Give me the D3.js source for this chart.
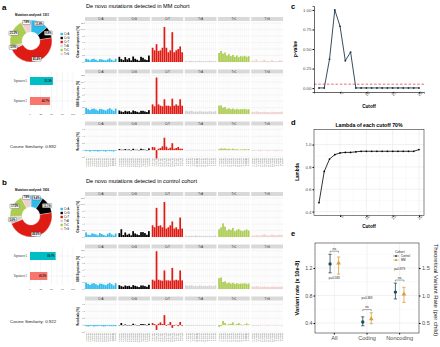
<!DOCTYPE html>
<html><head><meta charset="utf-8">
<script src="https://cdn.jsdelivr.net/npm/d3@7"></script>
<style>
body{margin:0;background:#fff;}
svg{font-family:"Liberation Sans",Arial,sans-serif;display:block}
</style></head><body>
<svg id="fig" width="440" height="347"></svg>
<script>
// substitution types + colours (MutationalPatterns palette)
const subs = ["C>A","C>G","C>T","T>A","T>C","T>G"];
const subColors = ["#2EBAED","#000000","#DE1C14","#D4D2D2","#ADCC54","#F0D0CE"];
const contexts = ["A.A","A.C","A.G","A.T","C.A","C.C","C.G","C.T","G.A","G.C","G.G","G.T","T.A","T.C","T.G","T.T"];

// donut shares (%)
const mmShares = [13.8,8.8,45.4,3.0,21.2,7.8];
const ctrlShares = [9.4,13.1,46.6,5.6,17.5,7.8];
const mmCount = 1301, ctrlCount = 1936;

// signature contributions (%)
const sigNames = ["Signature 5","Signature 1"];
const sigColors = ["#00BFC4","#F8766D"];
const mmSig = [53.3,46.7];
const ctrlSig = [59.7,40.3];
const sigTicks = [0,25,50,75,100];
const cosMM = 0.892, cosCtrl = 0.922;

// 96-channel profiles (%), one row of 16 per substitution
const mmObserved = [
  [1.0,0.8,0.5,0.9,1.0,0.7,0.4,0.9,0.8,0.6,0.5,0.8,1.1,0.7,0.4,1.0],
  [1.6,0.9,0.6,1.5,0.8,1.2,0.5,1.7,1.0,0.7,0.4,1.6,1.3,0.8,0.6,2.0],
  [4.4,3.6,5.5,3.4,3.6,4.4,10.8,4.4,3.0,3.6,9.2,3.0,3.6,4.0,4.8,3.0],
  [0.3,0.2,0.4,0.3,0.2,0.3,0.2,0.4,0.3,0.2,0.3,0.2,0.4,0.3,0.2,0.3],
  [2.8,3.4,2.6,2.9,2.0,2.4,1.8,2.2,1.6,2.0,1.5,1.8,1.7,1.9,1.6,1.8],
  [0.4,0.3,0.8,0.3,0.2,0.3,0.7,0.3,0.3,0.2,0.6,0.3,0.2,0.3,0.5,0.4]
];
const mmFitted = [
  [1.9,1.5,1.2,1.6,1.7,1.4,1.1,1.6,1.5,1.3,1.1,1.5,1.8,1.4,1.0,1.7],
  [1.1,0.8,0.6,1.0,0.8,0.9,0.5,1.1,0.9,0.7,0.5,1.0,1.0,0.8,0.6,1.2],
  [3.0,2.4,11.4,3.0,2.6,2.4,4.6,2.6,2.6,2.4,4.8,2.6,3.0,2.6,4.6,2.6],
  [1.0,0.8,0.9,1.0,0.7,0.8,0.7,0.9,0.8,0.7,0.8,0.7,0.9,0.8,0.7,0.9],
  [2.6,2.7,2.0,2.2,1.6,1.8,1.5,1.7,1.4,1.6,1.4,1.5,1.5,1.6,1.4,1.5],
  [0.7,0.6,0.8,0.7,0.6,0.6,0.7,0.6,0.6,0.5,0.7,0.6,0.6,0.6,0.6,0.7]
];
const mmResidual = [
  [-0.3,-0.2,-0.4,-0.2,-0.3,-0.3,-0.4,-0.3,-0.2,-0.3,-0.4,-0.2,-0.3,-0.3,-0.4,-0.2],
  [0.3,0.1,0.1,0.3,0.1,0.2,0.0,0.4,0.1,0.1,-0.1,0.4,0.2,0.1,0.0,0.5],
  [0.9,0.8,-2.4,0.4,0.6,1.1,3.6,1.0,0.4,0.7,2.0,0.4,0.6,0.9,0.4,0.4],
  [-0.1,-0.1,0.1,-0.1,-0.1,0.1,-0.1,0.1,-0.1,-0.1,0.1,-0.1,0.1,-0.1,-0.1,0.1],
  [0.3,0.5,0.4,0.5,0.3,0.4,0.2,0.4,0.2,0.3,0.1,0.2,0.2,0.3,0.2,0.3],
  [-0.2,-0.2,0.1,-0.3,-0.3,-0.2,0.1,-0.2,-0.2,-0.2,0.0,-0.2,-0.3,-0.2,-0.1,-0.2]
];
const ctrlObserved = [
  [1.4,0.7,0.6,1.1,1.0,0.8,0.5,1.2,0.9,0.6,0.4,1.0,1.3,0.8,0.5,1.1],
  [1.2,2.4,0.6,1.4,0.7,1.0,0.5,1.8,1.1,0.8,0.6,1.5,1.5,1.2,0.7,1.8],
  [3.6,3.0,9.0,3.4,3.6,3.0,10.8,2.6,3.0,3.6,4.8,2.6,3.0,2.4,6.0,2.6],
  [0.4,0.3,0.3,0.4,0.3,0.5,0.3,0.4,0.3,0.3,0.4,0.3,0.4,0.3,0.3,0.5],
  [2.4,3.0,4.2,3.2,2.0,2.4,2.2,2.8,1.8,2.2,2.4,2.0,1.8,2.1,2.3,2.0],
  [0.5,0.4,0.6,0.5,0.4,0.6,0.9,0.6,0.5,0.5,0.8,0.6,0.5,0.6,0.7,0.6]
];
const ctrlFitted = [
  [2.0,1.6,1.3,1.7,1.8,1.5,1.2,1.7,1.6,1.4,1.2,1.6,1.9,1.5,1.1,1.8],
  [1.2,0.9,0.7,1.1,0.9,1.0,0.6,1.2,1.0,0.8,0.6,1.1,1.1,0.9,0.7,1.3],
  [2.9,2.6,11.8,2.9,2.7,2.6,5.8,2.7,2.7,2.6,6.6,2.7,2.9,2.7,5.8,2.7],
  [1.2,1.0,1.1,1.2,0.9,1.0,0.9,1.1,1.0,0.9,1.0,0.9,1.1,1.0,0.9,1.1],
  [3.4,3.6,2.2,2.4,1.8,2.0,1.7,1.9,1.6,1.8,1.6,1.7,1.7,1.8,1.6,1.7],
  [0.8,0.7,0.9,0.8,0.7,0.7,0.8,0.7,0.7,0.6,0.8,0.7,0.7,0.7,0.7,0.8]
];
const ctrlResidual = [
  [-0.3,-0.4,-0.3,-0.2,-0.4,-0.3,-0.3,-0.2,-0.3,-0.4,-0.3,-0.2,-0.3,-0.3,-0.3,-0.3],
  [0.0,0.6,-0.1,0.2,-0.1,0.0,-0.1,0.4,0.1,0.0,0.0,0.3,0.3,0.2,0.0,0.4],
  [0.6,0.3,-1.4,0.4,0.8,0.3,2.9,-0.2,0.2,0.9,-0.8,-0.2,0.1,-0.3,0.9,-0.2],
  [-0.2,-0.2,-0.2,-0.2,-0.2,-0.1,-0.2,-0.2,-0.2,-0.2,-0.1,-0.2,-0.2,-0.2,-0.2,-0.1],
  [-0.5,-0.3,1.2,0.6,0.1,0.3,0.4,0.8,0.1,0.3,0.6,0.2,0.0,0.2,0.5,0.2],
  [-0.2,-0.2,-0.2,-0.2,-0.2,-0.1,0.1,-0.1,-0.2,-0.1,0.0,-0.1,-0.2,-0.1,0.0,-0.2]
];
const spectrumTicks = [0,2,4,6,8,10,12];
const residualTicks = [-2,0,2,4,6];

// panel c / d
const cutoffs = [1,2,3,4,5,6,7,8,9,10,11,12,13,14,15,16,17,18,19,20];
const pValues = [0.002,0.002,0.37,1.0,0.79,0.35,0.46,0.002,0.002,0.002,0.002,0.002,0.002,0.002,0.002,0.002,0.002,0.002,0.002,0.002];
const lambdas = [0.48,0.76,0.87,0.91,0.925,0.93,0.93,0.935,0.94,0.94,0.94,0.94,0.94,0.94,0.94,0.94,0.94,0.94,0.94,0.955];
const cutoffTicks = [5,10,15,20];
const pTicks = [0,0.25,0.5,0.75,1];
const lambdaTicks = [0.4,0.6,0.8,1.0];

// panel e
const rateGroups = ["All","Coding","Noncoding"];
const cohorts = ["Control","MM"];
const cohortColors = ["#1E4A5A","#D6A13C"];
const ctrlRate = [1.26,0.415,0.85], ctrlLo = [1.13,0.36,0.75], ctrlHi = [1.40,0.49,0.98];
const mmRate = [1.27,0.46,0.82], mmLo = [1.11,0.39,0.70], mmHi = [1.36,0.55,0.92];
const pLabels = ["p=0.583","p=0.369","p=0.879"];
const rateTicks = [0.4,0.8,1.2];
const secFactor = 1.25;

const fig = d3.select("#fig");
const fmt1 = d3.format(".1f");

function txt(g, x, y, s, size, o = {}) {
  return g.append("text").attr("x", x).attr("y", y).text(s)
    .attr("font-size", size)
    .attr("font-weight", o.bold ? "bold" : null)
    .attr("text-anchor", o.anchor || "start")
    .attr("fill", o.fill || "#000")
    .attr("transform", o.rotate ? `rotate(${o.rotate},${x},${y})` : null);
}

// ---------- left column ----------
function drawLeft(y0, shares, count, sig, cos) {
  const g = fig.append("g").attr("transform", `translate(31,${41 + y0})`);
  const pie = d3.pie().sort(null)(shares);
  const arc = d3.arc().innerRadius(9).outerRadius(21);
  g.selectAll("path").data(pie).join("path")
    .attr("d", arc).attr("fill", (d, i) => subColors[i])
    .attr("stroke", "#fff").attr("stroke-width", 0.3);
  const lab = d3.arc().innerRadius(19).outerRadius(19);
  pie.forEach(d => {
    const [lx, ly] = lab.centroid(d);
    const t = txt(g, lx, ly + 0.9, fmt1(d.data) + "%", 2.6, {anchor: "middle", bold: true});
    const w = t.node().getComputedTextLength() + 2;
    g.insert("rect", "text:last-of-type")
      .attr("x", lx - w / 2).attr("y", ly - 2.2).attr("width", w).attr("height", 4.2)
      .attr("rx", 0.6).attr("fill", "#fff").attr("stroke", "#222").attr("stroke-width", 0.3);
    t.raise();
  });
  txt(fig, 32, 16 + y0, `Mutations analysed: ${count}`, 2.8, {anchor: "middle", bold: true});

  // legend
  const ly = d3.scaleBand(subs, [32 + y0, 56 + y0]);
  subs.forEach((s, i) => {
    fig.append("rect").attr("x", 60.5).attr("y", ly(s) + 0.8).attr("width", 2.4).attr("height", 2.4).attr("fill", subColors[i]);
    txt(fig, 64, ly(s) + 3, s, 2.6);
  });

  // signature bars
  const xs = d3.scaleLinear([0, 100], [30, 73]);
  const ys = d3.scaleBand(sigNames, [72 + y0, 110 + y0]).paddingInner(0.6).paddingOuter(0.25);
  const gg = fig.append("g");
  d3.range(0, 101, 12.5).forEach(v => gg.append("line")
    .attr("x1", xs(v)).attr("x2", xs(v)).attr("y1", 72 + y0).attr("y2", 110 + y0)
    .attr("stroke", v % 25 === 0 ? "#e3e3e3" : "#f0f0f0").attr("stroke-width", 0.4));
  sigNames.forEach(n => gg.append("line").attr("x1", 30).attr("x2", 73)
    .attr("y1", ys(n) + ys.bandwidth() / 2).attr("y2", ys(n) + ys.bandwidth() / 2)
    .attr("stroke", "#e3e3e3").attr("stroke-width", 0.4));
  sigNames.forEach((n, i) => {
    gg.append("rect").attr("x", xs(0)).attr("y", ys(n)).attr("width", xs(sig[i]) - xs(0))
      .attr("height", ys.bandwidth()).attr("fill", sigColors[i]);
    txt(gg, xs(sig[i]) - 1, ys(n) + ys.bandwidth() / 2 + 1, fmt1(sig[i]) + "%", 2.6, {anchor: "end", bold: true, fill: "#1a1a1a"});
    txt(gg, 27, ys(n) + ys.bandwidth() / 2 + 1, n, 2.6, {anchor: "end", fill: "#333"});
  });
  sigTicks.forEach(v => txt(gg, xs(v), 115 + y0, v, 2.4, {anchor: "middle", fill: "#4d4d4d"}));

  txt(fig, 10, 148 + y0, `Cosine Similarity: ${cos}`, 4.4, {fill: "#1a1a1a"});
}

// ---------- spectrum rows ----------
const xFacet = d3.scaleBand(subs, [85, 283]).paddingInner(0.045);

function spectrumRow(stripTop, top, bottom, values, domain, ticks, title, showX) {
  const g = fig.append("g");
  const y = d3.scaleLinear(domain, [bottom, top]);
  subs.forEach((s, i) => {
    const x0 = xFacet(s), bw = xFacet.bandwidth();
    const xc = d3.scaleBand(contexts, [x0, x0 + bw]).padding(0.12);
    g.append("rect").attr("x", x0).attr("y", stripTop).attr("width", bw).attr("height", top - stripTop - 0.5).attr("fill", "#d9d9d9");
    txt(g, x0 + bw / 2, stripTop + (top - stripTop) / 2 + 0.9, s, 2.6, {anchor: "middle", fill: "#1a1a1a"});
    ticks.forEach(t => g.append("line").attr("x1", x0).attr("x2", x0 + bw)
      .attr("y1", y(t)).attr("y2", y(t)).attr("stroke", "#e4e4e4").attr("stroke-width", 0.35));
    contexts.forEach(c => g.append("line")
      .attr("x1", xc(c) + xc.bandwidth() / 2).attr("x2", xc(c) + xc.bandwidth() / 2)
      .attr("y1", top).attr("y2", bottom).attr("stroke", "#ececec").attr("stroke-width", 0.3));
    g.selectAll(null).data(values[i]).join("rect")
      .attr("x", (d, j) => xc(contexts[j])).attr("width", xc.bandwidth())
      .attr("y", d => y(Math.max(0, d))).attr("height", d => Math.max(0.35, Math.abs(y(d) - y(0))))
      .attr("fill", subColors[i]);
    if (showX) contexts.forEach(c => {
      const cx = xc(c) + xc.bandwidth() / 2 + 0.8;
      txt(g, cx, bottom + 1, `${c[0]}[${s}]${c[2]}`, 2.2, {anchor: "end", rotate: -90, fill: "#4d4d4d"});
    });
  });
  ticks.forEach(t => {
    txt(g, 83.5, y(t) + 0.8, t, 2.2, {anchor: "end", fill: "#4d4d4d"});
    g.append("line").attr("x1", 84).attr("x2", 85).attr("y1", y(t)).attr("y2", y(t)).attr("stroke", "#333").attr("stroke-width", 0.3);
  });
  txt(g, 79, (top + bottom) / 2, title, 2.8, {anchor: "middle", rotate: -90, bold: true});
}

function drawMiddle(y0, title, obs, fit, res) {
  txt(fig, 86, 8 + y0, title, 5.6);
  spectrumRow(17 + y0, 21.5 + y0, 62 + y0, obs, [0, 12.5], spectrumTicks, "Observed spectrum (%)", false);
  spectrumRow(69.5 + y0, 74 + y0, 114 + y0, fit, [0, 12.5], spectrumTicks, "SBS Signatures (%)", false);
  spectrumRow(121.5 + y0, 126 + y0, 157 + y0, res, [-2, 7], residualTicks, "Residuals (%)", true);
}

drawLeft(0, mmShares, mmCount, mmSig, cosMM);
drawLeft(175, ctrlShares, ctrlCount, ctrlSig, cosCtrl);
drawMiddle(0, "De novo mutations detected in MM cohort", mmObserved, mmFitted, mmResidual);
drawMiddle(175, "De novo mutations detected in control cohort", ctrlObserved, ctrlFitted, ctrlResidual);

txt(fig, 2, 10, "a", 8, {bold: true});
txt(fig, 2, 185, "b", 8, {bold: true});

// ---------- panel c ----------
const xCut = d3.scaleLinear([0.05, 20.95], [314, 424]);
{
  const y = d3.scaleLinear([-0.05, 1.05], [92, 6]);
  const g = fig.append("g");
  txt(g, 291, 9, "c", 7.5, {bold: true});
  g.append("line").attr("x1", xCut(0.05)).attr("x2", xCut(20.95)).attr("y1", y(0.05)).attr("y2", y(0.05))
    .attr("stroke", "#E0483E").attr("stroke-width", 0.8).attr("stroke-dasharray", "2.5,1.8");
  g.append("path").datum(cutoffs).attr("fill", "none").attr("stroke", "#1F3A4D").attr("stroke-width", 0.9)
    .attr("d", d3.line().x(d => xCut(d)).y((d, i) => y(pValues[i])));
  g.selectAll("circle").data(cutoffs).join("circle")
    .attr("cx", d => xCut(d)).attr("cy", (d, i) => y(pValues[i])).attr("r", 0.95).attr("fill", "#1F3A4D");
  g.append("g").attr("transform", "translate(0,92)")
    .call(d3.axisBottom(xCut).tickValues(cutoffTicks).tickSize(1.5).tickFormat(d3.format("d")))
    .call(a => a.select(".domain").attr("stroke-width", 0.6))
    .call(a => a.selectAll("text").attr("font-size", 4.4).attr("fill", "#4d4d4d")
      .attr("text-anchor", "end").attr("dy", 0).attr("y", 3).attr("x", 1.5)
      .attr("transform", "rotate(-45)"));
  g.append("g").attr("transform", "translate(314,0)")
    .call(d3.axisLeft(y).tickValues(pTicks).tickSize(1.5).tickFormat(d3.format(".2f")))
    .call(a => a.select(".domain").attr("stroke-width", 0.6))
    .call(a => a.selectAll("text").attr("font-size", 4.4).attr("fill", "#4d4d4d").attr("x", -2.5));
  txt(g, 369, 108, "Cutoff", 4.6, {anchor: "middle", bold: true});
  txt(g, 297, 49, "p-value", 4.6, {anchor: "middle", bold: true, rotate: -90});
}

// ---------- panel d ----------
{
  const y = d3.scaleLinear([0.365, 1.135], [215.5, 129.5]);
  const g = fig.append("g");
  txt(g, 291, 125, "d", 7.5, {bold: true});
  txt(g, 369, 126.5, "Lambda of each cutoff 70%", 5.2, {anchor: "middle", bold: true});
  [0.5, 0.7, 0.9, 1.1].forEach(v => g.append("line").attr("x1", 314).attr("x2", 424).attr("y1", y(v)).attr("y2", y(v)).attr("stroke", "#f2f2f2").attr("stroke-width", 0.4));
  [2.5, 7.5, 12.5, 17.5].forEach(v => g.append("line").attr("x1", xCut(v)).attr("x2", xCut(v)).attr("y1", 129.5).attr("y2", 215.5).attr("stroke", "#f2f2f2").attr("stroke-width", 0.4));
  lambdaTicks.forEach(v => g.append("line").attr("x1", 314).attr("x2", 424).attr("y1", y(v)).attr("y2", y(v)).attr("stroke", "#e2e2e2").attr("stroke-width", 0.5));
  cutoffTicks.forEach(v => g.append("line").attr("x1", xCut(v)).attr("x2", xCut(v)).attr("y1", 129.5).attr("y2", 215.5).attr("stroke", "#e2e2e2").attr("stroke-width", 0.5));
  g.append("path").datum(cutoffs).attr("fill", "none").attr("stroke", "#000").attr("stroke-width", 0.8)
    .attr("d", d3.line().x(d => xCut(d)).y((d, i) => y(lambdas[i])));
  g.selectAll("circle").data(cutoffs).join("circle")
    .attr("cx", d => xCut(d)).attr("cy", (d, i) => y(lambdas[i])).attr("r", 0.85).attr("fill", "#000");
  g.append("rect").attr("x", 314).attr("y", 129.5).attr("width", 110).attr("height", 86)
    .attr("fill", "none").attr("stroke", "#333").attr("stroke-width", 0.6);
  g.append("g").attr("transform", "translate(0,215.5)")
    .call(d3.axisBottom(xCut).tickValues(cutoffTicks).tickSize(1.5).tickFormat(d3.format("d")))
    .call(a => a.select(".domain").remove())
    .call(a => a.selectAll("text").attr("font-size", 4.4).attr("fill", "#4d4d4d")
      .attr("text-anchor", "end").attr("dy", 0).attr("y", 3).attr("x", 1.5).attr("transform", "rotate(-45)"));
  g.append("g").attr("transform", "translate(314,0)")
    .call(d3.axisLeft(y).tickValues(lambdaTicks).tickSize(1.5).tickFormat(d3.format(".1f")))
    .call(a => a.select(".domain").remove())
    .call(a => a.selectAll("text").attr("font-size", 4.4).attr("fill", "#4d4d4d").attr("x", -2.5));
  txt(g, 369, 227.5, "Cutoff", 4.6, {anchor: "middle", bold: true});
  txt(g, 299, 172, "Lambda", 4.6, {anchor: "middle", bold: true, rotate: -90});
}

// ---------- panel e ----------
{
  const y = d3.scaleLinear([0.255, 1.564], [333, 243]);
  const x = d3.scaleBand(rateGroups, [318, 416]);
  const dodge = d3.scaleBand(cohorts, [-8.5, 8.5]);
  const g = fig.append("g");
  txt(g, 291, 236, "e", 7.5, {bold: true});
  [0.6, 1.0, 1.4].forEach(v => g.append("line").attr("x1", 315).attr("x2", 419).attr("y1", y(v)).attr("y2", y(v)).attr("stroke", "#f2f2f2").attr("stroke-width", 0.4));
  rateTicks.forEach(v => g.append("line").attr("x1", 315).attr("x2", 419).attr("y1", y(v)).attr("y2", y(v)).attr("stroke", "#e2e2e2").attr("stroke-width", 0.5));
  rateGroups.forEach(c => g.append("line").attr("x1", x(c) + x.bandwidth() / 2).attr("x2", x(c) + x.bandwidth() / 2).attr("y1", 243).attr("y2", 333).attr("stroke", "#e2e2e2").attr("stroke-width", 0.5));

  const series = [[ctrlRate, ctrlLo, ctrlHi], [mmRate, mmLo, mmHi]];
  rateGroups.forEach((grp, i) => {
    const cx = x(grp) + x.bandwidth() / 2;
    series.forEach(([m, lo, hi], k) => {
      const px = cx + dodge(cohorts[k]) + dodge.bandwidth() / 2, col = cohortColors[k];
      g.append("line").attr("x1", px).attr("x2", px).attr("y1", y(lo[i])).attr("y2", y(hi[i])).attr("stroke", col).attr("stroke-width", 0.8);
      [lo[i], hi[i]].forEach(v => g.append("line").attr("x1", px - 1.6).attr("x2", px + 1.6).attr("y1", y(v)).attr("y2", y(v)).attr("stroke", col).attr("stroke-width", 0.8));
      if (k === 0) g.append("circle").attr("cx", px).attr("cy", y(m[i])).attr("r", 1.7).attr("fill", col);
      else g.append("path").attr("d", d3.symbol(d3.symbolTriangle, 10)()).attr("transform", `translate(${px},${y(m[i])})`).attr("fill", col);
    });
    // significance bracket
    const top = Math.max(ctrlHi[i], mmHi[i]) + 0.045;
    const xa = cx + dodge("Control") + dodge.bandwidth() / 2, xb = cx + dodge("MM") + dodge.bandwidth() / 2;
    g.append("path").attr("d", `M${xa},${y(top) + 1.5}V${y(top)}H${xb}V${y(top) + 1.5}`).attr("fill", "none").attr("stroke", "#222").attr("stroke-width", 0.4);
    txt(g, cx, y(top) - 1.2, "ns", 3.4, {anchor: "middle", fill: "#222"});
    const py = i === 0 ? y(Math.min(ctrlLo[i], mmLo[i]) - 0.07) : y(top + 0.15);
    txt(g, cx, py, pLabels[i], 3, {anchor: "middle", fill: "#222"});
  });
  g.append("rect").attr("x", 315).attr("y", 243).attr("width", 104).attr("height", 90)
    .attr("fill", "none").attr("stroke", "#333").attr("stroke-width", 0.6);
  g.append("g").attr("transform", "translate(315,0)")
    .call(d3.axisLeft(y).tickValues(rateTicks).tickSize(1.5).tickFormat(d3.format(".1f")))
    .call(a => a.select(".domain").remove())
    .call(a => a.selectAll("text").attr("font-size", 5.2).attr("fill", "#4d4d4d").attr("x", -2.5));
  const ySec = d3.scaleLinear(y.domain().map(v => v * secFactor), y.range());
  g.append("g").attr("transform", "translate(419,0)")
    .call(d3.axisRight(ySec).tickValues(rateTicks.map(v => v * secFactor)).tickSize(1.5).tickFormat(d3.format(".1f")))
    .call(a => a.select(".domain").remove())
    .call(a => a.selectAll("text").attr("font-size", 5.6).attr("fill", "#4d4d4d").attr("x", 3));
  g.append("g").attr("transform", "translate(0,333)")
    .call(d3.axisBottom(x).tickSize(1.5))
    .call(a => a.select(".domain").remove())
    .call(a => a.selectAll("text").attr("font-size", 5.6).attr("fill", "#4d4d4d").attr("y", 3.5));
  txt(g, 299, 288, "Variant rate (x 10e-8)", 5.6, {anchor: "middle", bold: true, rotate: -90});
  txt(g, 434, 290, "Theoretical Variant Rate (per child)", 6, {anchor: "middle", rotate: 90, fill: "#222"});
  // legend
  txt(g, 395, 252.5, "Cohort", 3.2, {fill: "#222"});
  cohorts.forEach((c, k) => {
    const ly = 256 + k * 4;
    g.append("line").attr("x1", 393).attr("x2", 399).attr("y1", ly).attr("y2", ly).attr("stroke", cohortColors[k]).attr("stroke-width", 0.5);
    if (k === 0) g.append("circle").attr("cx", 396).attr("cy", ly).attr("r", 1).attr("fill", cohortColors[k]);
    else g.append("path").attr("d", d3.symbol(d3.symbolTriangle, 4)()).attr("transform", `translate(396,${ly})`).attr("fill", cohortColors[k]);
    txt(g, 401, ly + 1, c, 2.8, {fill: "#222"});
  });
}
</script>
</body></html>
